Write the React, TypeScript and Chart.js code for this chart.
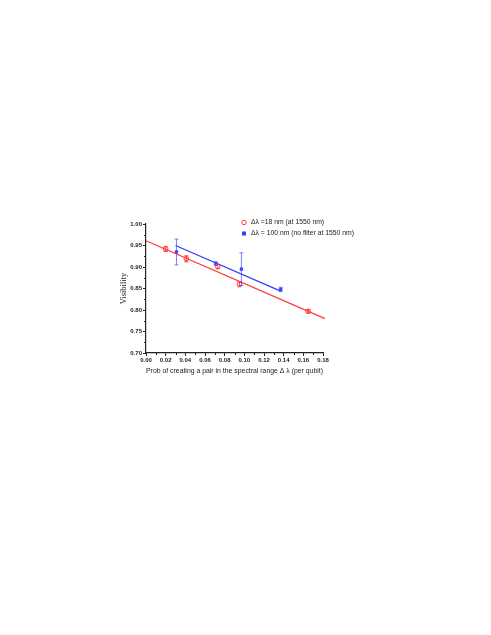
import React, { useEffect, useRef } from "react";
import { Chart, registerables } from "chart.js";

Chart.register(...registerables);

// ---- data ----
const redX = [0.02, 0.041, 0.073, 0.095, 0.165];
const redY = [0.942, 0.919, 0.901, 0.86, 0.797];
const redErr = [0.006, 0.007, 0.005, 0.006, 0.004];

const blueX = [0.031, 0.071, 0.097, 0.137];
const blueY = [0.935, 0.908, 0.895, 0.848];
const blueErr = [0.03, 0.004, 0.038, 0.005];

const redFitX = [0.0, 0.182];
const redFitY = [0.961, 0.78];
const blueFitX = [0.03, 0.137];
const blueFitY = [0.95, 0.844];

const redLabel = "Δλ =18 nm (at 1550 nm)";
const blueLabel = "Δλ = 100 nm (no filter at 1550 nm)";
const xTitle = "Prob of creating a pair in the spectral range Δ λ (per qubit)";
const yTitle = "Visibility";

const RED = "#ff3b3b";
const BLUE = "#3a3aff";
const AXIS = "#222222";

const pts = (xs: number[], ys: number[]) => xs.map((x, i) => ({ x, y: ys[i] }));

const errorBarPlugin = {
  id: "errorBars",
  afterDatasetsDraw(chart: any) {
    const { ctx, scales } = chart;
    const xs = scales.x, ys = scales.y;
    const sets = [
      { xs: redX, ys: redY, err: redErr, color: RED },
      { xs: blueX, ys: blueY, err: blueErr, color: "rgba(70,70,255,0.7)" },
    ];
    ctx.save();
    ctx.lineWidth = 1;
    for (const s of sets) {
      ctx.strokeStyle = s.color;
      s.xs.forEach((x, i) => {
        const px = xs.getPixelForValue(x);
        const y1 = ys.getPixelForValue(s.ys[i] + s.err[i]);
        const y2 = ys.getPixelForValue(s.ys[i] - s.err[i]);
        ctx.beginPath();
        ctx.moveTo(px, y1);
        ctx.lineTo(px, y2);
        ctx.moveTo(px - 2, y1);
        ctx.lineTo(px + 2, y1);
        ctx.moveTo(px - 2, y2);
        ctx.lineTo(px + 2, y2);
        ctx.stroke();
      });
    }
    ctx.restore();
  },
};

const minorTickPlugin = {
  id: "minorTicks",
  afterDraw(chart: any) {
    const { ctx, scales, chartArea } = chart;
    const xs = scales.x, ys = scales.y;
    ctx.save();
    ctx.strokeStyle = AXIS;
    ctx.lineWidth = 1;
    ctx.beginPath();
    for (let i = 0; i < 9; i++) {
      const v = 0.01 + i * 0.02;
      const px = Math.round(xs.getPixelForValue(v)) + 0.5;
      ctx.moveTo(px, chartArea.bottom);
      ctx.lineTo(px, chartArea.bottom + 2);
    }
    for (let i = 0; i < 6; i++) {
      const v = 0.725 + i * 0.05;
      const py = Math.round(ys.getPixelForValue(v)) + 0.5;
      ctx.moveTo(chartArea.left, py);
      ctx.lineTo(chartArea.left - 2, py);
    }
    ctx.stroke();
    ctx.restore();
  },
};

const legendPlugin = {
  id: "customLegend",
  afterDraw(chart: any) {
    const { ctx } = chart;
    ctx.save();
    ctx.font = "6.8px 'Liberation Sans', Arial, sans-serif";
    ctx.textBaseline = "middle";
    ctx.fillStyle = "#222";
    // red circle
    ctx.strokeStyle = RED;
    ctx.lineWidth = 1;
    ctx.beginPath();
    ctx.arc(244, 222.5, 2.2, 0, Math.PI * 2);
    ctx.stroke();
    ctx.fillText(redLabel, 251, 222.5);
    // blue square
    ctx.fillStyle = BLUE;
    ctx.fillRect(242, 231.5, 4, 4);
    ctx.fillStyle = "#222";
    ctx.fillText(blueLabel, 251, 233.5);
    ctx.restore();
  },
};

export default function App() {
  const ref = useRef<HTMLCanvasElement | null>(null);
  useEffect(() => {
    if (!ref.current) return;
    const tickFont = { family: "'Liberation Sans', Arial, sans-serif", size: 6, weight: "bold" as const };
    const chart = new Chart(ref.current, {
      type: "scatter",
      data: {
        datasets: [
          {
            type: "line",
            label: "redFit",
            data: pts(redFitX, redFitY),
            borderColor: RED,
            borderWidth: 1.3,
            pointRadius: 0,
            fill: false,
            clip: false,
          } as any,
          {
            type: "line",
            label: "blueFit",
            data: pts(blueFitX, blueFitY),
            borderColor: BLUE,
            borderWidth: 1.3,
            pointRadius: 0,
            fill: false,
            clip: false,
          } as any,
          {
            label: redLabel,
            data: pts(redX, redY),
            pointStyle: "circle",
            pointRadius: 2.3,
            borderColor: RED,
            backgroundColor: "rgba(255,255,255,0)",
            borderWidth: 1,
          },
          {
            label: blueLabel,
            data: pts(blueX, blueY),
            pointStyle: "rect",
            pointRadius: 2,
            borderColor: BLUE,
            backgroundColor: BLUE,
            borderWidth: 0.5,
          },
        ],
      },
      options: {
        responsive: false,
        animation: false,
        events: [],
        layout: { padding: { left: 106, right: 168, top: 224, bottom: 252 } },
        plugins: { legend: { display: false }, tooltip: { enabled: false } },
        scales: {
          x: {
            type: "linear",
            min: 0,
            max: 0.18,
            afterFit: (s: any) => { s.height = 30; },
            border: { display: true, color: AXIS, width: 1.2 },
            grid: { display: true, drawOnChartArea: false, tickLength: 3, color: AXIS, tickColor: AXIS },
            ticks: {
              stepSize: 0.02,
              padding: 1,
              color: "#222",
              font: tickFont,
              maxRotation: 0,
              autoSkip: false,
              callback: (v: any) => Number(v).toFixed(2),
            },
            title: {
              display: true,
              text: xTitle,
              color: "#222",
              font: { family: "'Liberation Sans', Arial, sans-serif", size: 7.3 },
              padding: { top: 0, bottom: 7.5 },
            },
          },
          y: {
            type: "linear",
            min: 0.7,
            max: 1.0,
            afterFit: (s: any) => { s.width = 40; },
            border: { display: true, color: AXIS, width: 1.2 },
            grid: { display: true, drawOnChartArea: false, tickLength: 3, color: AXIS, tickColor: AXIS },
            ticks: {
              stepSize: 0.05,
              padding: 1,
              color: "#222",
              font: tickFont,
              autoSkip: false,
              callback: (v: any) => Number(v).toFixed(2),
            },
            title: {
              display: true,
              text: yTitle,
              color: "#222",
              font: { family: "'Liberation Serif', 'Times New Roman', serif", size: 8.5 },
              padding: { top: 13, bottom: 0 },
            },
          },
        },
      },
      plugins: [errorBarPlugin, minorTickPlugin, legendPlugin],
    });
    return () => chart.destroy();
  }, []);
  return (
    <div style={{ position: "absolute", left: 0, top: 0, width: 491, height: 635, background: "#fff" }}>
      <canvas ref={ref} width={491} height={635} style={{ width: 491, height: 635, display: "block" }} />
    </div>
  );
}
